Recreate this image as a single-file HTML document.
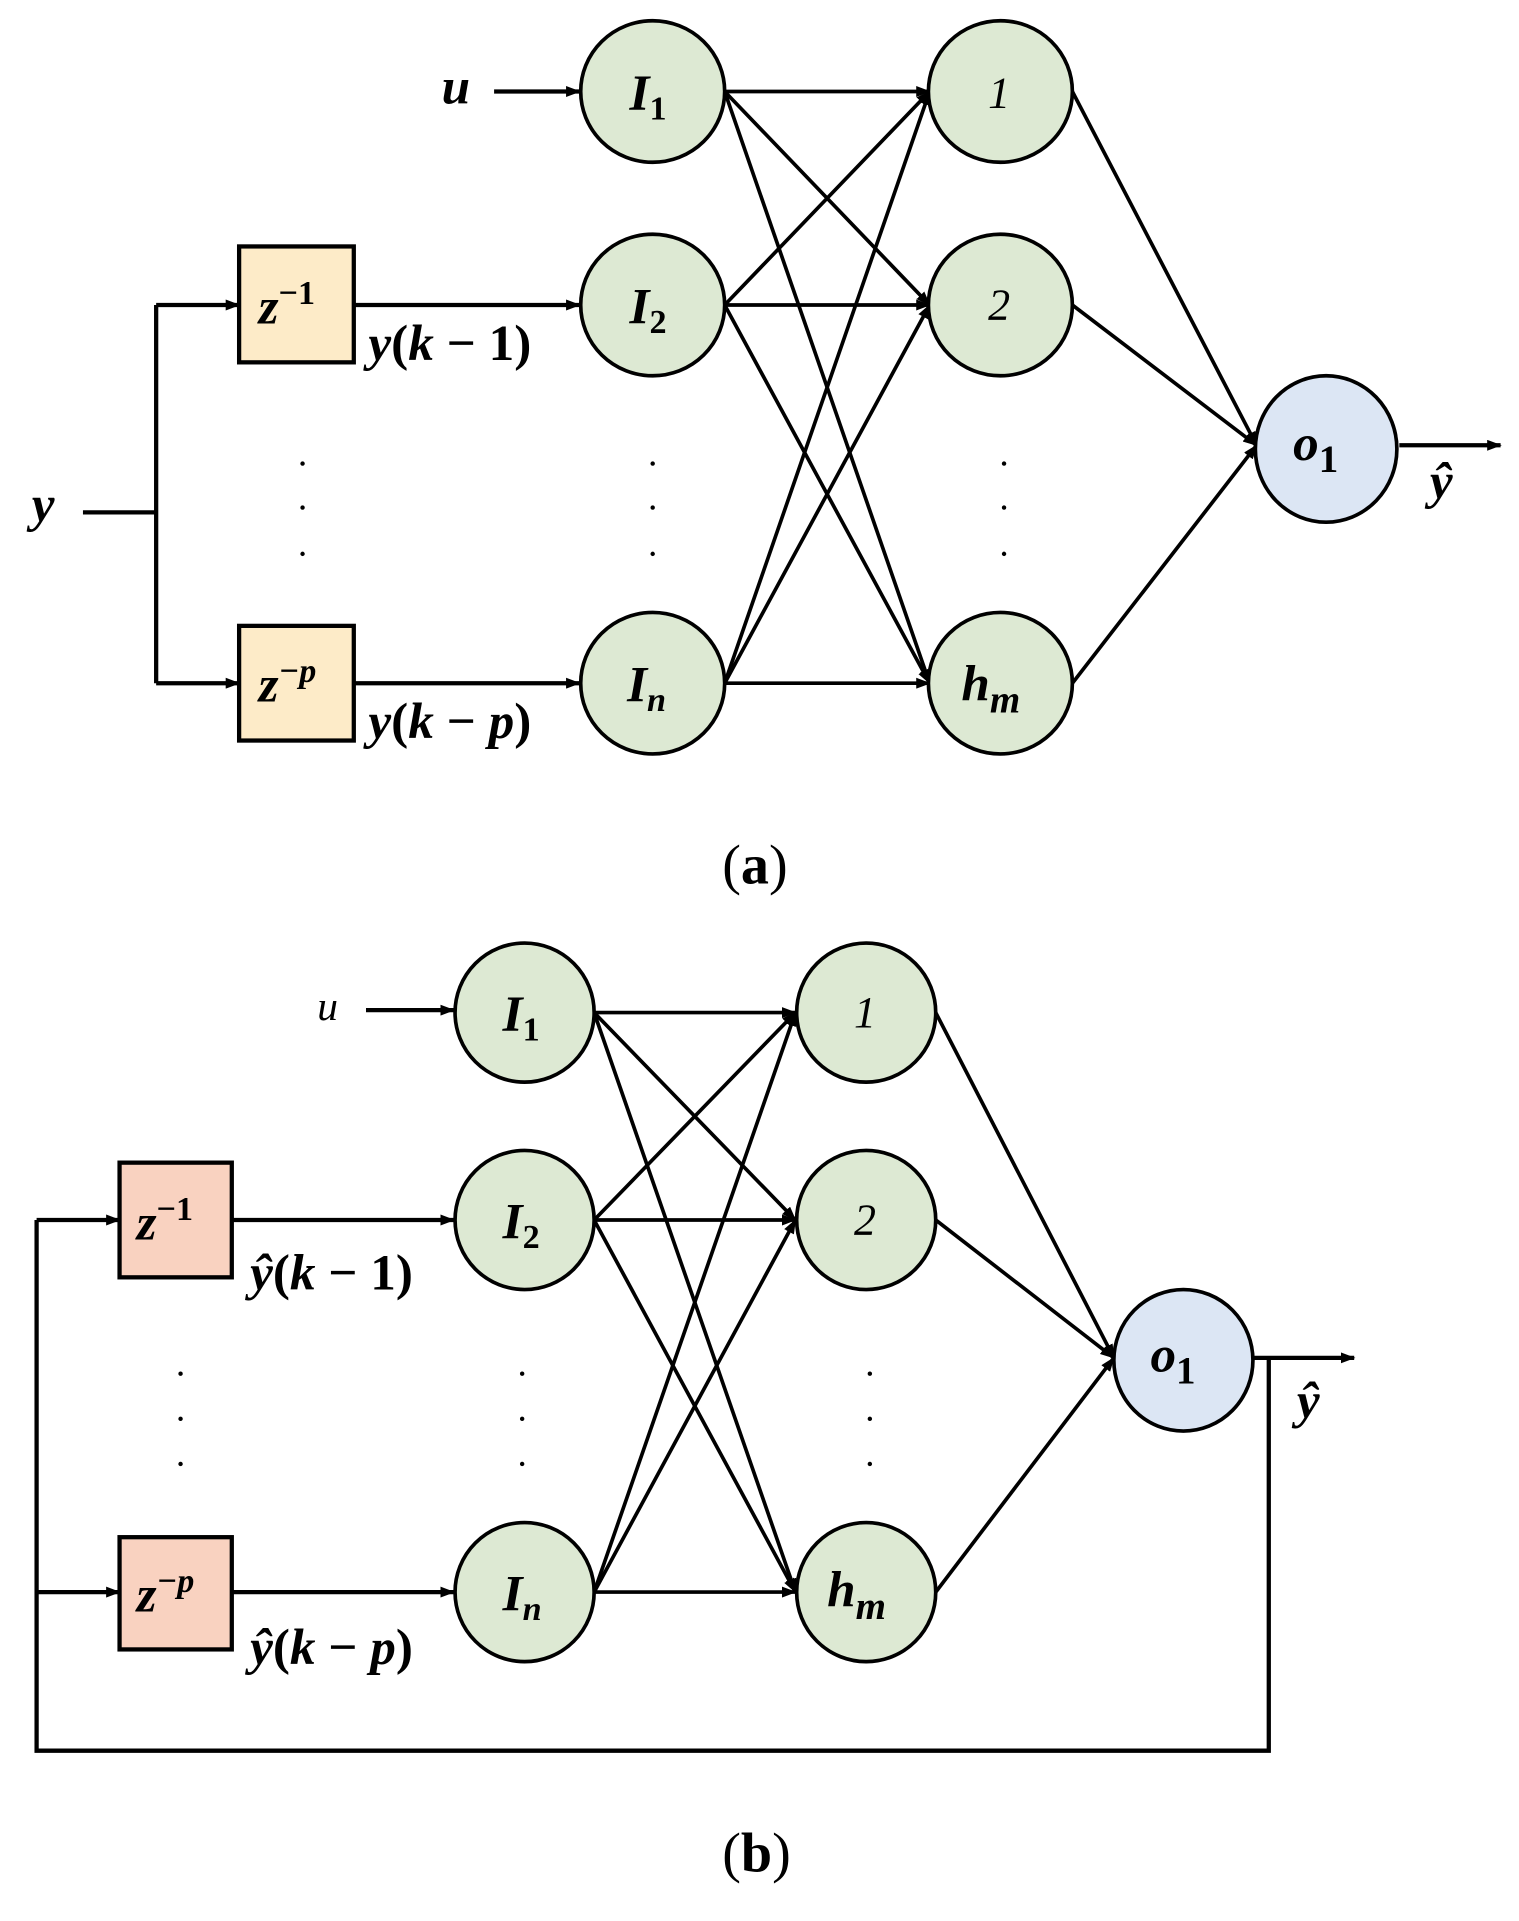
<!DOCTYPE html>
<html><head><meta charset="utf-8"><style>
html,body{margin:0;padding:0;background:#fff}
svg{display:block}
text{font-family:"Liberation Serif",serif;fill:#000}
</style></head><body>
<svg width="1519" height="1921" viewBox="0 0 1245.1 1574.6" xmlns="http://www.w3.org/2000/svg">
<defs>
<marker id="a" markerWidth="12" markerHeight="9" refX="11" refY="4.5" orient="auto" markerUnits="userSpaceOnUse">
<path d="M0,0 L12,4.5 L0,9 z" fill="#000"/></marker>
</defs>
<g stroke="#000" stroke-width="3.5" fill="none">
<line x1="68" y1="420" x2="128" y2="420"/>
<polyline points="128,250 128,560"/>
<line x1="128" y1="250" x2="196" y2="250" marker-end="url(#a)"/>
<line x1="128" y1="560" x2="196" y2="560" marker-end="url(#a)"/>
<line x1="290" y1="250" x2="475" y2="250" marker-end="url(#a)"/>
<line x1="290" y1="560" x2="475" y2="560" marker-end="url(#a)"/>
<line x1="405" y1="75" x2="475" y2="75" marker-end="url(#a)"/>
<line x1="1147" y1="365" x2="1230" y2="365" marker-end="url(#a)"/>
<g stroke-width="3">
<line x1="594" y1="75" x2="762" y2="75" marker-end="url(#a)"/>
<line x1="594" y1="75" x2="762" y2="250" marker-end="url(#a)"/>
<line x1="594" y1="75" x2="762" y2="560" marker-end="url(#a)"/>
<line x1="594" y1="250" x2="762" y2="75" marker-end="url(#a)"/>
<line x1="594" y1="250" x2="762" y2="250" marker-end="url(#a)"/>
<line x1="594" y1="250" x2="762" y2="560" marker-end="url(#a)"/>
<line x1="594" y1="560" x2="762" y2="75" marker-end="url(#a)"/>
<line x1="594" y1="560" x2="762" y2="250" marker-end="url(#a)"/>
<line x1="594" y1="560" x2="762" y2="560" marker-end="url(#a)"/>
<line x1="879" y1="75" x2="1030" y2="365" marker-end="url(#a)"/>
<line x1="879" y1="250" x2="1030" y2="365" marker-end="url(#a)"/>
<line x1="879" y1="560" x2="1030" y2="365" marker-end="url(#a)"/>
</g>
<line x1="300" y1="828" x2="372" y2="828" marker-end="url(#a)"/>
<polyline points="30,1000 30,1435 1040,1435 1040,1113"/>
<line x1="30" y1="1000" x2="98" y2="1000" marker-end="url(#a)"/>
<line x1="30" y1="1305" x2="98" y2="1305" marker-end="url(#a)"/>
<line x1="190" y1="1000" x2="372" y2="1000" marker-end="url(#a)"/>
<line x1="190" y1="1305" x2="372" y2="1305" marker-end="url(#a)"/>
<line x1="1028" y1="1113" x2="1110" y2="1113" marker-end="url(#a)"/>
<g stroke-width="3">
<line x1="487" y1="830" x2="652" y2="830" marker-end="url(#a)"/>
<line x1="487" y1="830" x2="652" y2="1000" marker-end="url(#a)"/>
<line x1="487" y1="830" x2="652" y2="1305" marker-end="url(#a)"/>
<line x1="487" y1="1000" x2="652" y2="830" marker-end="url(#a)"/>
<line x1="487" y1="1000" x2="652" y2="1000" marker-end="url(#a)"/>
<line x1="487" y1="1000" x2="652" y2="1305" marker-end="url(#a)"/>
<line x1="487" y1="1305" x2="652" y2="830" marker-end="url(#a)"/>
<line x1="487" y1="1305" x2="652" y2="1000" marker-end="url(#a)"/>
<line x1="487" y1="1305" x2="652" y2="1305" marker-end="url(#a)"/>
<line x1="767" y1="830" x2="913" y2="1113" marker-end="url(#a)"/>
<line x1="767" y1="1000" x2="913" y2="1113" marker-end="url(#a)"/>
<line x1="767" y1="1305" x2="913" y2="1113" marker-end="url(#a)"/>
</g>
</g>
<g stroke="#000" stroke-width="3.5">
<rect x="196" y="202" width="94" height="95" fill="#fdebc8"/>
<rect x="196" y="513" width="94" height="94" fill="#fdebc8"/>
<rect x="98" y="953" width="92" height="94" fill="#f9d2c0"/>
<rect x="98" y="1260" width="92" height="92" fill="#f9d2c0"/>
</g>
<g stroke="#000" stroke-width="3" fill="#dde9d3">
<ellipse cx="535" cy="75" rx="59" ry="58"/>
<ellipse cx="535" cy="250" rx="59" ry="58"/>
<ellipse cx="535" cy="560" rx="59" ry="58"/>
<ellipse cx="820" cy="75" rx="59" ry="58"/>
<ellipse cx="820" cy="250" rx="59" ry="58"/>
<ellipse cx="820" cy="560" rx="59" ry="58"/>
<ellipse cx="1087" cy="368" rx="58" ry="60" fill="#dce6f4"/>
<ellipse cx="430" cy="830" rx="57" ry="57"/>
<ellipse cx="430" cy="1000" rx="57" ry="57"/>
<ellipse cx="430" cy="1305" rx="57" ry="57"/>
<ellipse cx="710" cy="830" rx="57" ry="57"/>
<ellipse cx="710" cy="1000" rx="57" ry="57"/>
<ellipse cx="710" cy="1305" rx="57" ry="57"/>
<ellipse cx="970" cy="1115" rx="57" ry="58" fill="#dce6f4"/>
</g>
<g font-style="italic" font-size="42" font-weight="600">
<text x="26" y="427">y</text>
<text x="362" y="85">u</text>
<text x="516" y="90">I<tspan font-size="28" dy="8" font-style="normal">1</tspan></text>
<text x="516" y="265">I<tspan font-size="28" dy="8" font-style="normal">2</tspan></text>
<text x="514" y="575">I<tspan font-size="28" dy="8">n</tspan></text>
<text x="810" y="88" font-size="36" font-weight="normal">1</text>
<text x="810" y="262" font-size="36" font-weight="normal">2</text>
<text x="788" y="574">h<tspan font-size="32" dy="10">m</tspan></text>
<text x="1060" y="377">o<tspan font-size="32" dy="10" font-style="normal">1</tspan></text>
<text x="212" y="265">z<tspan font-size="28" dy="-16" font-style="normal">−1</tspan></text>
<text x="212" y="575">z<tspan font-size="28" dy="-16">−p</tspan></text>
<text x="302" y="295">y<tspan font-style="normal">(</tspan>k<tspan font-style="normal"> − 1)</tspan></text>
<text x="302" y="605">y<tspan font-style="normal">(</tspan>k<tspan font-style="normal"> − </tspan>p<tspan font-style="normal">)</tspan></text>
<text x="1172" y="408">ŷ</text>
<text x="260" y="836" font-size="34" font-weight="normal">u</text>
<text x="412" y="845">I<tspan font-size="28" dy="8" font-style="normal">1</tspan></text>
<text x="412" y="1015">I<tspan font-size="28" dy="8" font-style="normal">2</tspan></text>
<text x="412" y="1320">I<tspan font-size="28" dy="8">n</tspan></text>
<text x="700" y="842" font-size="36" font-weight="normal">1</text>
<text x="700" y="1012" font-size="36" font-weight="normal">2</text>
<text x="678" y="1317">h<tspan font-size="32" dy="10">m</tspan></text>
<text x="943" y="1124">o<tspan font-size="32" dy="10" font-style="normal">1</tspan></text>
<text x="112" y="1016">z<tspan font-size="28" dy="-16" font-style="normal">−1</tspan></text>
<text x="112" y="1321">z<tspan font-size="28" dy="-16">−p</tspan></text>
<text x="205" y="1057">ŷ<tspan font-style="normal">(</tspan>k<tspan font-style="normal"> − 1)</tspan></text>
<text x="205" y="1364">ŷ<tspan font-style="normal">(</tspan>k<tspan font-style="normal"> − </tspan>p<tspan font-style="normal">)</tspan></text>
<text x="1063" y="1162">ŷ</text>
</g>
<g font-size="46">
<text x="592" y="724">(<tspan font-weight="bold">a</tspan>)</text>
<text x="592" y="1534">(<tspan font-weight="bold">b</tspan>)</text>
</g>
<g fill="#000">
<circle cx="248" cy="380" r="1.8"/><circle cx="248" cy="416" r="1.8"/><circle cx="248" cy="454" r="1.8"/>
<circle cx="535" cy="380" r="1.8"/><circle cx="535" cy="416" r="1.8"/><circle cx="535" cy="454" r="1.8"/>
<circle cx="823" cy="380" r="1.8"/><circle cx="823" cy="416" r="1.8"/><circle cx="823" cy="454" r="1.8"/>
<circle cx="148" cy="1126" r="1.8"/><circle cx="148" cy="1163" r="1.8"/><circle cx="148" cy="1200" r="1.8"/>
<circle cx="428" cy="1126" r="1.8"/><circle cx="428" cy="1163" r="1.8"/><circle cx="428" cy="1200" r="1.8"/>
<circle cx="713" cy="1126" r="1.8"/><circle cx="713" cy="1163" r="1.8"/><circle cx="713" cy="1200" r="1.8"/>
</g>
</svg>
</body></html>
